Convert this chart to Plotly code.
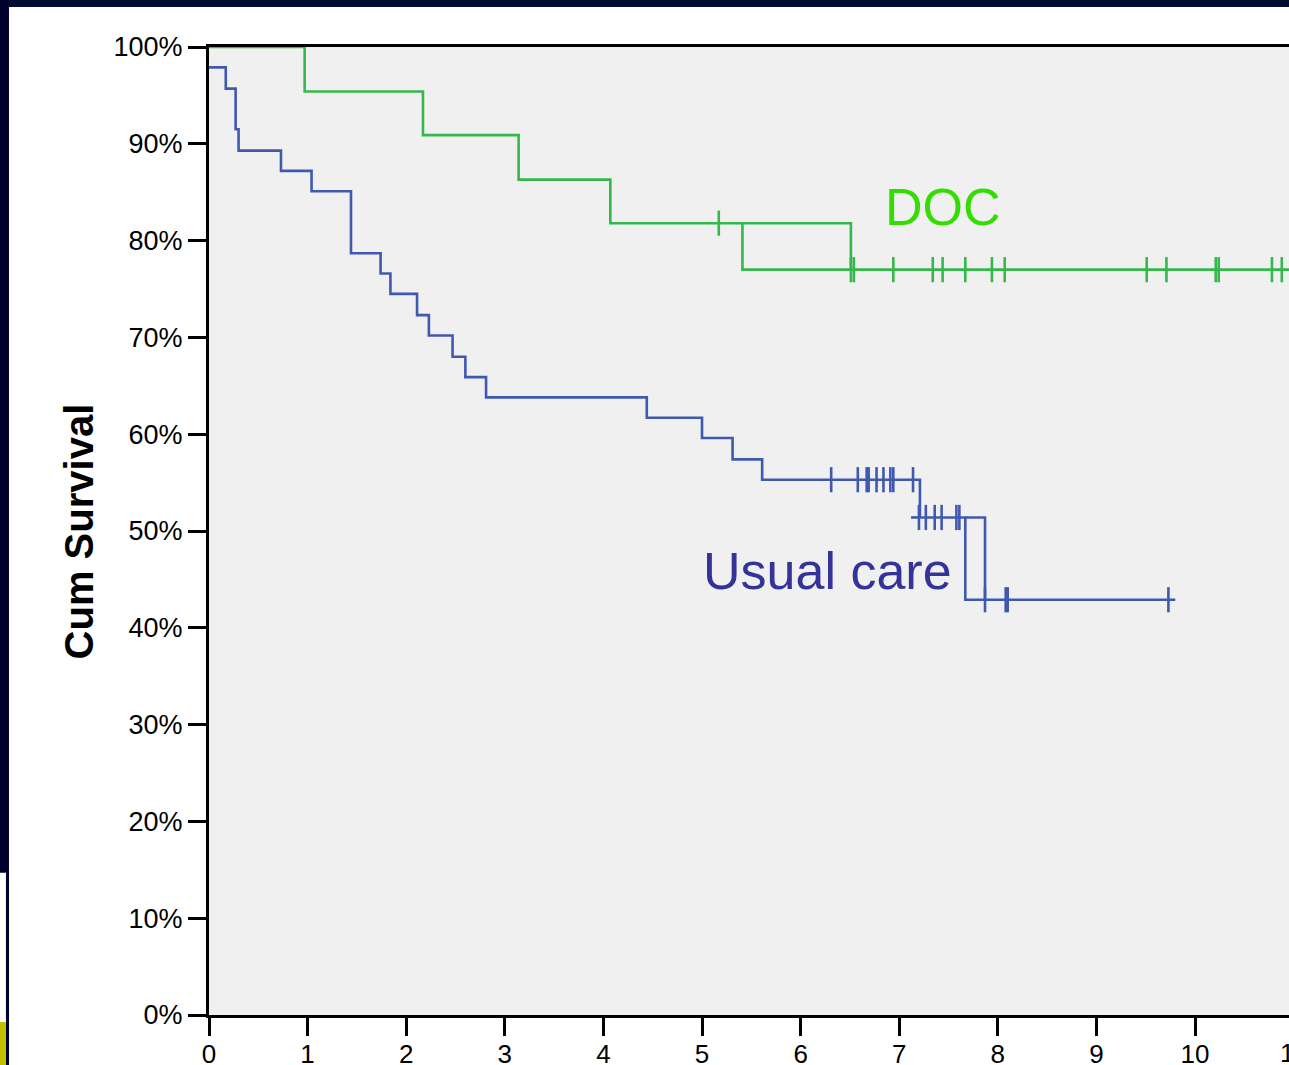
import plotly.graph_objects as go

# ---------------- data ----------------
# DOC arm: Kaplan-Meier step curve (time in years, survival %)
doc_t = [0.0, 0.97, 2.17, 3.14, 4.07, 5.41, 10.953]
doc_s = [100.0, 95.4, 90.9, 86.3, 81.8, 77.0, 77.0]
# extra step drawn by the source software (parallel branch)
doc_extra_t = [5.41, 6.51, 6.51]
doc_extra_s = [81.8, 81.8, 77.0]
# censored observations
doc_cens_t = [5.17, 6.51, 6.54, 6.94, 7.34, 7.44, 7.67, 7.94, 8.07,
              9.51, 9.71, 10.21, 10.24, 10.78, 10.88]
doc_cens_s = [81.8, 77.0, 77.0, 77.0, 77.0, 77.0, 77.0, 77.0, 77.0,
              77.0, 77.0, 77.0, 77.0, 77.0, 77.0]

# Usual care arm
uc_t = [0.0, 0.17, 0.27, 0.30, 0.73, 1.04, 1.44, 1.74, 1.84, 2.11, 2.23,
        2.47, 2.60, 2.81, 4.44, 5.00, 5.31, 5.61, 7.21, 7.67, 9.80]
uc_s = [97.9, 95.7, 91.5, 89.3, 87.2, 85.1, 78.7, 76.6, 74.5, 72.3, 70.2,
        68.0, 65.9, 63.8, 61.7, 59.6, 57.4, 55.3, 51.4, 42.9, 42.9]
uc_extra_t = [7.67, 7.87, 7.87]
uc_extra_s = [51.4, 51.4, 42.9]
uc_extra2_t = [7.12, 7.21]
uc_extra2_s = [51.4, 51.4]
uc_cens_t = [6.31, 6.58, 6.67, 6.69, 6.77, 6.84, 6.91, 6.94, 7.14,
             7.20, 7.27, 7.36, 7.43, 7.58, 7.61,
             7.87, 8.08, 8.10, 9.73]
uc_cens_s = [55.3] * 9 + [51.4] * 6 + [42.9] * 4

y_ticks = list(range(0, 101, 10))
y_ticktext = [f"{v}%" for v in y_ticks]
x_ticks = list(range(0, 11))
x_max = 10.953

GREEN = "#35b84a"
BLUE = "#4059b0"
FONT = "Liberation Sans, Arial, sans-serif"

fig = go.Figure()

def add_step(t, s, color):
    fig.add_trace(go.Scatter(x=t, y=s, mode="lines", line=dict(color=color, width=2.6, shape="hv"),
                             showlegend=False, hoverinfo="skip", cliponaxis=False))

add_step(doc_t, doc_s, GREEN)
add_step(doc_extra_t, doc_extra_s, GREEN)
add_step(uc_t, uc_s, BLUE)
add_step(uc_extra_t, uc_extra_s, BLUE)
add_step(uc_extra2_t, uc_extra2_s, BLUE)

for t, s, c in [(doc_cens_t, doc_cens_s, GREEN), (uc_cens_t, uc_cens_s, BLUE)]:
    fig.add_trace(go.Scatter(x=t, y=s, mode="markers",
                             marker=dict(symbol="line-ns", size=18, line=dict(color=c, width=2.6)),
                             showlegend=False, hoverinfo="skip"))

# labels
fig.add_annotation(x=7.44, y=83.5, xref="x", yref="y", text="DOC", showarrow=False,
                   font=dict(family=FONT, size=52, color="#33dd00"), xanchor="center", yanchor="middle")
fig.add_annotation(x=6.27, y=45.9, xref="x", yref="y", text="Usual care", showarrow=False,
                   font=dict(family=FONT, size=52, color="#333399"), xanchor="center", yanchor="middle")
# y-axis title
fig.add_annotation(x=-0.12, y=0.5, xref="paper", yref="paper", text="<b>Cum Survival</b>",
                   textangle=-90, showarrow=False, font=dict(family=FONT, size=40, color="black"),
                   xanchor="center", yanchor="middle")
# partially visible tick label "11" at the right edge
fig.add_annotation(x=11 / x_max, y=0, xref="paper", yref="paper", text="11", showarrow=False,
                   font=dict(family=FONT, size=26, color="black"), xanchor="center", yanchor="top",
                   yshift=-21)

# slide background decorations
shapes = [
    dict(type="rect", xref="paper", yref="paper", x0=-0.2, x1=1.01, y0=1.0413, y1=1.06,
         fillcolor="#000c30", line=dict(width=0), layer="above"),
    dict(type="rect", xref="paper", yref="paper", x0=-0.2, x1=-0.1852, y0=0.147, y1=1.06,
         fillcolor="#00002c", line=dict(width=0), layer="above"),
    dict(type="rect", xref="paper", yref="paper", x0=-0.1880, x1=-0.1852, y0=-0.06, y1=0.15,
         fillcolor="#00002c", line=dict(width=0), layer="above"),
    dict(type="rect", xref="paper", yref="paper", x0=-0.2, x1=-0.1880, y0=-0.06, y1=-0.0072,
         fillcolor="#c2c000", line=dict(width=0), layer="above"),
]

fig.update_layout(
    width=1289, height=1065,
    margin=dict(l=209, r=0, t=47, b=50, pad=0, autoexpand=False),
    paper_bgcolor="white", plot_bgcolor="#f0f0f0",
    font=dict(family=FONT, color="black"),
    shapes=shapes,
    xaxis=dict(range=[0, x_max], tickvals=x_ticks, ticks="outside", ticklen=18, tickwidth=3,
               tickcolor="black", showline=True, linecolor="black", linewidth=3, mirror=True,
               showgrid=False, zeroline=False, automargin=False, ticklabelstandoff=-4,
               tickfont=dict(size=26, family=FONT)),
    yaxis=dict(range=[0, 100], tickvals=y_ticks, ticktext=y_ticktext, ticks="outside",
               ticklen=18, tickwidth=3, tickcolor="black", showline=True, linecolor="black",
               linewidth=3, showgrid=False, zeroline=False, automargin=False,
               tickfont=dict(size=27, family=FONT)),
)

fig.write_html(
    "out.html",
    config={"displayModeBar": False},
    post_script="document.body.style.margin='0';document.body.style.overflow='hidden';"
                "document.documentElement.style.overflow='hidden';",
)
